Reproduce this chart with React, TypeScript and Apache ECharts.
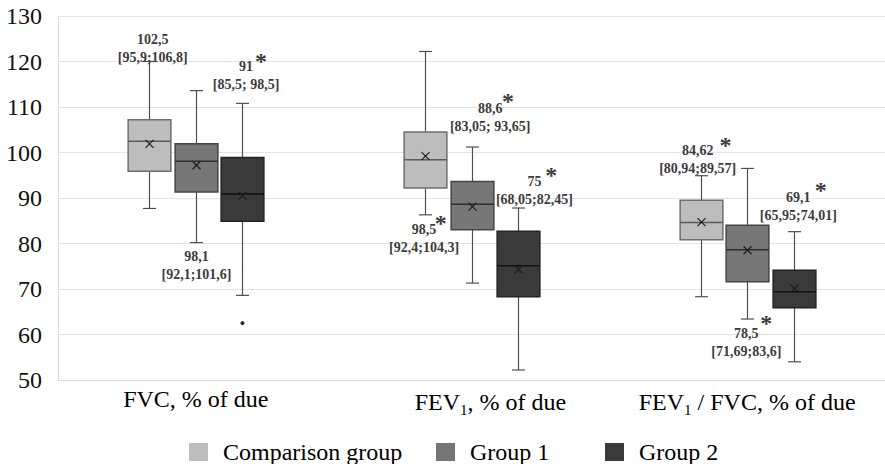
import React, { useEffect, useRef } from "react";
import * as echarts from "echarts";

// ---------- data ----------
const CATEGORIES = ["FVC, % of due", "FEV1, % of due", "FEV1 / FVC, % of due"];
const GROUPS = ["Comparison group", "Group 1", "Group 2"];

const Y_MIN = 50;
const Y_MAX = 130;
const Y_STEP = 10;

// [min, q1, median, q3, max] per category
const COMPARISON_BOX = [
  [87.7, 95.9, 102.5, 107.2, 120.0],
  [86.3, 92.2, 98.4, 104.5, 122.2],
  [68.3, 80.8, 84.6, 89.5, 94.9],
];
const COMPARISON_MEAN = [101.9, 99.2, 84.7];

const GROUP1_BOX = [
  [80.2, 91.3, 98.1, 101.9, 113.6],
  [71.3, 83.0, 88.6, 93.6, 101.2],
  [63.4, 71.6, 78.6, 84.0, 96.5],
];
const GROUP1_MEAN = [97.2, 88.1, 78.5];

const GROUP2_BOX = [
  [68.6, 84.9, 90.9, 98.9, 110.8],
  [52.2, 68.3, 75.1, 82.7, 87.8],
  [54.0, 65.9, 69.4, 74.1, 82.6],
];
const GROUP2_MEAN = [90.5, 74.3, 70.1];

const GROUP2_OUTLIERS = [[0, 62.5]];

// annotation texts, per group, per category
const MEDIAN_LABELS = [
  ["102,5", "98,5", "84,62"],
  ["98,1", "88,6", "78,5"],
  ["91", "75", "69,1"],
];
const IQR_LABELS = [
  ["[95,9;106,8]", "[92,4;104,3]", "[80,94;89,57]"],
  ["[92,1;101,6]", "[83,05; 93,65]", "[71,69;83,6]"],
  ["[85,5; 98,5]", "[68,05;82,45]", "[65,95;74,01]"],
];
const SIGNIFICANT = [
  [false, true, true],
  [false, true, true],
  [true, true, true],
];

// ---------- layout / style ----------
const FONT = "Liberation Serif";
const GROUP_OFFSET = 0.169; // fraction of band
const BOX_WIDTH = 0.155; // fraction of band
const CAP_W = 13;

const GROUP_STYLE = [
  { fill: "#bdbdbd", stroke: "#6f6f6f", median: "#5a5a5a" },
  { fill: "#777777", stroke: "#454545", median: "#2e2e2e" },
  { fill: "#3a3a3a", stroke: "#232323", median: "#111111" },
];
const WHISKER_COLOR = "#505050";
const ANNOT_COLOR = "#3c3c3c";

// anchor (data units of first text line), dx (px from box centre), star offset (px from first line centre)
const ANNOT_LAYOUT = [
  [
    { v: 124.9, dx: 3.5, sx: 0, sy: 0 },
    { v: 83.0, dx: -0.8, sx: 16.6, sy: -11 },
    { v: 100.5, dx: -2.9, sx: 27.7, sy: -10 },
  ],
  [
    { v: 77.1, dx: 0.7, sx: 0, sy: 0 },
    { v: 109.6, dx: 18.7, sx: 17.7, sy: -12.3 },
    { v: 60.3, dx: -0.8, sx: 20, sy: -14.3 },
  ],
  [
    { v: 118.9, dx: 3.7, sx: 15, sy: -9.7 },
    { v: 93.7, dx: 16.3, sx: 16.8, sy: -11 },
    { v: 90.1, dx: 4.6, sx: 22.4, sy: -11.7 },
  ],
];
const LEGEND_LEFT = [189, 436, 605];

const BOXES = [COMPARISON_BOX, GROUP1_BOX, GROUP2_BOX];
const MEANS = [COMPARISON_MEAN, GROUP1_MEAN, GROUP2_MEAN];

function boxRenderer(gi: number) {
  return (params: any, api: any) => {
    const cs = params.coordSys;
    const band = cs.width / CATEGORIES.length;
    const ci = api.value(0);
    const off = (gi - 1) * band * GROUP_OFFSET;
    const bw = band * BOX_WIDTH;
    const p = (k: number) => api.coord([ci, api.value(k)]);
    const pMin = p(1), pQ1 = p(2), pMed = p(3), pQ3 = p(4), pMax = p(5), pMean = p(6);
    const cx = Math.round(pMin[0] + off) + 0.5;
    const st = GROUP_STYLE[gi];
    const wl = { stroke: WHISKER_COLOR, lineWidth: 1.2 };
    const m = 4;
    return {
      type: "group",
      children: [
        { type: "line", shape: { x1: cx, y1: pQ3[1], x2: cx, y2: pMax[1] }, style: wl },
        { type: "line", shape: { x1: cx, y1: pQ1[1], x2: cx, y2: pMin[1] }, style: wl },
        { type: "line", shape: { x1: cx - CAP_W / 2, y1: pMax[1], x2: cx + CAP_W / 2, y2: pMax[1] }, style: wl },
        { type: "line", shape: { x1: cx - CAP_W / 2, y1: pMin[1], x2: cx + CAP_W / 2, y2: pMin[1] }, style: wl },
        {
          type: "rect",
          shape: { x: cx - bw / 2, y: pQ3[1], width: bw, height: pQ1[1] - pQ3[1] },
          style: { fill: st.fill, stroke: st.stroke, lineWidth: 1.5 },
        },
        {
          type: "line",
          shape: { x1: cx - bw / 2, y1: pMed[1], x2: cx + bw / 2, y2: pMed[1] },
          style: { stroke: st.median, lineWidth: 1.5 },
        },
        {
          type: "line",
          shape: { x1: cx - m, y1: pMean[1] - m, x2: cx + m, y2: pMean[1] + m },
          style: { stroke: "#1e1e1e", lineWidth: 1.3 },
        },
        {
          type: "line",
          shape: { x1: cx - m, y1: pMean[1] + m, x2: cx + m, y2: pMean[1] - m },
          style: { stroke: "#1e1e1e", lineWidth: 1.3 },
        },
      ],
    };
  };
}

function outlierRenderer(gi: number) {
  return (params: any, api: any) => {
    const cs = params.coordSys;
    const band = cs.width / CATEGORIES.length;
    const pt = api.coord([api.value(0), api.value(1)]);
    return {
      type: "circle",
      shape: { cx: pt[0] + (gi - 1) * band * GROUP_OFFSET, cy: pt[1], r: 2 },
      style: { fill: "#222222" },
    };
  };
}

const annotData: number[][] = [];
for (let gi = 0; gi < 3; gi++) {
  for (let ci = 0; ci < 3; ci++) {
    annotData.push([ci, ANNOT_LAYOUT[gi][ci].v, gi]);
  }
}

function annotRenderer(params: any, api: any) {
  const cs = params.coordSys;
  const band = cs.width / CATEGORIES.length;
  const ci = api.value(0);
  const gi = api.value(2);
  const lay = ANNOT_LAYOUT[gi][ci];
  const pt = api.coord([ci, api.value(1)]);
  const x = pt[0] + (gi - 1) * band * GROUP_OFFSET + lay.dx;
  const y = pt[1];
  const txt = (t: string, tx: number, ty: number, size: number) => ({
    type: "text",
    x: tx,
    y: ty,
    style: {
      text: t,
      fill: ANNOT_COLOR,
      font: "bold " + size + "px " + FONT,
      align: "center",
      verticalAlign: "middle",
    },
  });
  const children: any[] = [txt(MEDIAN_LABELS[gi][ci], x, y, 14), txt(IQR_LABELS[gi][ci], x, y + 18, 14)];
  if (SIGNIFICANT[gi][ci]) {
    children.push(txt("*", x + lay.sx, y + lay.sy + 4.5, 24));
  }
  return { type: "group", children };
}

export default function App() {
  const ref = useRef<HTMLDivElement>(null);
  useEffect(() => {
    if (!ref.current) return;
    const chart = echarts.init(ref.current, undefined, { renderer: "svg" });
    const series: any[] = [];
    GROUPS.forEach((name, gi) => {
      series.push({
        name,
        type: "custom",
        renderItem: boxRenderer(gi),
        itemStyle: { color: GROUP_STYLE[gi].fill },
        encode: { x: 0, y: [1, 2, 3, 4, 5, 6] },
        data: BOXES[gi].map((b, ci) => [ci, ...b, MEANS[gi][ci]]),
        clip: false,
        z: 3,
      });
    });
    series.push({
      name: "Group 2 outliers",
      type: "custom",
      renderItem: outlierRenderer(2),
      encode: { x: 0, y: 1 },
      data: GROUP2_OUTLIERS,
      z: 4,
    });
    series.push({
      name: "annotations",
      type: "custom",
      renderItem: annotRenderer,
      encode: { x: 0, y: 1 },
      data: annotData,
      clip: false,
      silent: true,
      z: 5,
    });

    chart.setOption({
      animation: false,
      backgroundColor: "#ffffff",
      grid: { left: 58, top: 16, width: 834, height: 364 },
      legend: GROUPS.map((name, i) => ({
        data: [name],
        left: LEGEND_LEFT[i],
        top: 440,
        icon: "rect",
        itemWidth: 19,
        itemHeight: 18,
        padding: 0,
        selectedMode: false,
        itemStyle: { borderWidth: 0 },
        textStyle: { fontSize: 24, fontFamily: FONT, color: "#000000", padding: [0, 0, 0, 10] },
      })),
      xAxis: {
        type: "category",
        data: CATEGORIES,
        axisLine: { show: true, lineStyle: { color: "#d9d9d9", width: 1 } },
        axisTick: { show: false },
        splitLine: { show: false },
        axisLabel: {
          interval: 0,
          margin: 7,
          fontSize: 24,
          fontFamily: FONT,
          color: "#000000",
          formatter: (v: string, idx: number) => {
            const s = v.replace(/FEV1/g, "FEV{sub|1}");
            return idx === 1 ? "{pad| }" + s : s;
          },
          rich: {
            sub: { fontSize: 15, fontFamily: FONT, color: "#000000", padding: [15, 0, 0, 0] },
            pad: { width: 38, fontSize: 24, fontFamily: FONT },
          },
        },
      },
      yAxis: {
        type: "value",
        min: Y_MIN,
        max: Y_MAX,
        interval: Y_STEP,
        axisLine: { show: true, lineStyle: { color: "#d9d9d9", width: 1 } },
        axisTick: { show: false },
        splitLine: { show: true, lineStyle: { color: "#e3e3e3", width: 1 } },
        axisLabel: {
          margin: 16,
          fontSize: 24,
          fontFamily: FONT,
          color: "#111111",
          padding: [11, 0, 0, 0],
        },
      },
      series,
    });
    return () => chart.dispose();
  }, []);
  return (
    <div
      ref={ref}
      style={{ position: "fixed", left: 0, top: 0, width: 885, height: 464, background: "#fff" }}
    />
  );
}
